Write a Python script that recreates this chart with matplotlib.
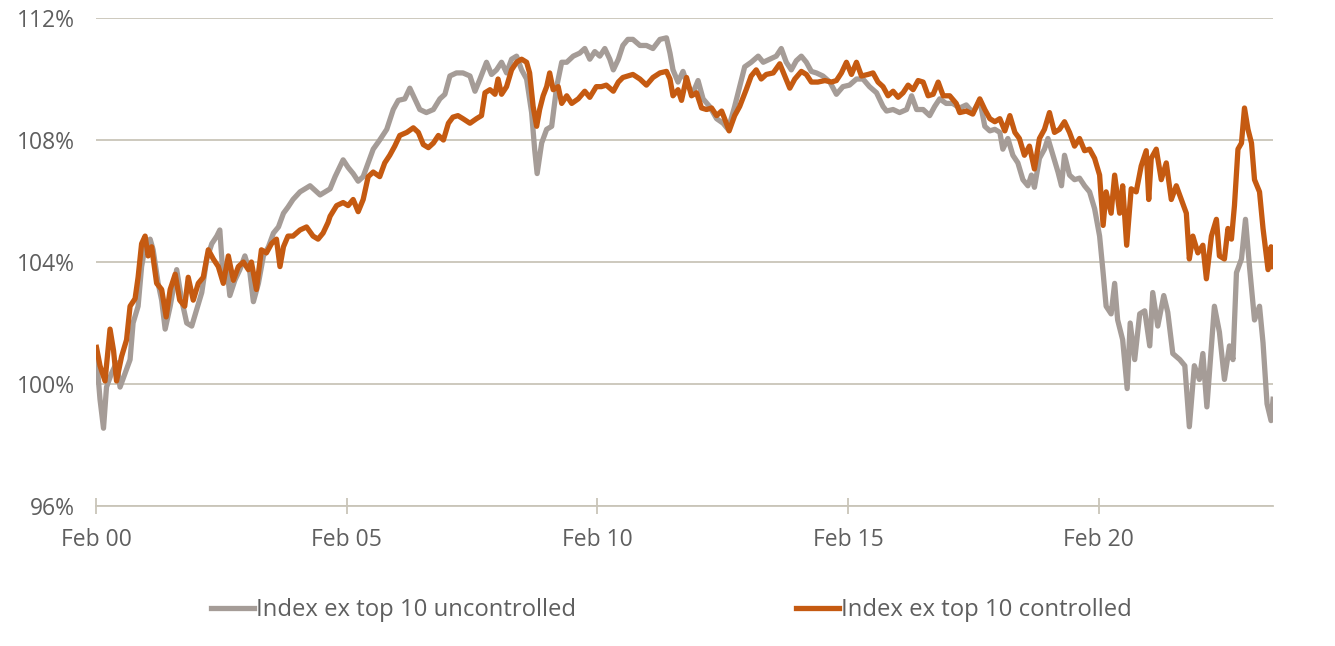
import matplotlib
matplotlib.use('Agg')
import matplotlib.pyplot as plt

# Years since Feb 2000 and index level (%) for the uncontrolled index
t_unc = [0.01, 0.08, 0.15, 0.21, 0.31, 0.41, 0.48, 0.58, 0.68, 0.74, 0.84, 0.91, 0.98, 1.08, 1.14,
         1.24, 1.31, 1.38, 1.48, 1.61, 1.71, 1.81, 1.91, 2.01, 2.11, 2.21, 2.31, 2.41, 2.47, 2.54,
         2.61, 2.67, 2.77, 2.87, 2.97, 3.07, 3.14, 3.24, 3.34, 3.44, 3.54, 3.64, 3.74, 3.83, 3.93,
         4.07, 4.27, 4.47, 4.67, 4.77, 4.93, 5.03, 5.13, 5.23, 5.33, 5.43, 5.53, 5.66, 5.80, 5.93,
         6.03, 6.16, 6.26, 6.36, 6.46, 6.59, 6.73, 6.86, 6.96, 7.06, 7.19, 7.32, 7.46, 7.56, 7.66,
         7.79, 7.89, 7.99, 8.09, 8.19, 8.29, 8.39, 8.49, 8.59, 8.69, 8.75, 8.80, 8.89, 8.99, 9.09,
         9.19, 9.29, 9.39, 9.52, 9.65, 9.75, 9.85, 9.95, 10.05, 10.15, 10.25, 10.32, 10.42, 10.51,
         10.61, 10.71, 10.85, 10.98, 11.11, 11.25, 11.38, 11.45, 11.51, 11.61, 11.71, 11.81, 11.91,
         12.01, 12.11, 12.24, 12.38, 12.51, 12.61, 12.74, 12.84, 12.94, 13.07, 13.21, 13.31, 13.44,
         13.57, 13.67, 13.77, 13.87, 13.97, 14.07, 14.17, 14.27, 14.37, 14.50, 14.64, 14.77, 14.90,
         15.03, 15.17, 15.30, 15.43, 15.57, 15.70, 15.77, 15.90, 16.03, 16.17, 16.27, 16.37, 16.50,
         16.63, 16.73, 16.83, 16.96, 17.09, 17.23, 17.36, 17.49, 17.63, 17.73, 17.83, 17.93, 18.03,
         18.09, 18.19, 18.29, 18.39, 18.49, 18.59, 18.66, 18.72, 18.82, 18.92, 18.99, 19.09, 19.19,
         19.26, 19.32, 19.42, 19.52, 19.62, 19.72, 19.82, 19.92, 20.02, 20.09, 20.15, 20.25, 20.32,
         20.38, 20.48, 20.57, 20.63, 20.72, 20.82, 20.92, 21.02, 21.08, 21.18, 21.30, 21.38, 21.48,
         21.62, 21.72, 21.81, 21.91, 22.01, 22.08, 22.16, 22.25, 22.31, 22.41, 22.51, 22.61, 22.68,
         22.75, 22.85, 22.93, 23.01, 23.11, 23.21, 23.28, 23.36, 23.44, 23.48]
v_unc = [100.9, 99.5, 98.55, 99.9, 100.35, 100.7, 99.9, 100.35, 100.8, 102.0, 102.55, 103.85, 104.5,
         104.75, 104.4, 103.3, 102.75, 101.8, 102.55, 103.75, 102.75, 102.0, 101.9, 102.45, 103.0,
         104.1, 104.6, 104.85, 105.05, 103.4, 103.85, 102.9, 103.4, 103.75, 104.2, 103.65, 102.7,
         103.3, 104.2, 104.5, 104.95, 105.15, 105.6, 105.8, 106.05, 106.3, 106.5, 106.2, 106.4,
         106.8, 107.35, 107.1, 106.9, 106.65, 106.8, 107.25, 107.7, 108.0, 108.35, 109.0, 109.3,
         109.35, 109.7, 109.35, 109.0, 108.9, 109.0, 109.35, 109.5, 110.1, 110.2, 110.2, 110.1,
         109.6, 110.0, 110.55, 110.15, 110.3, 110.55, 110.2, 110.65, 110.75, 110.3, 110.0, 108.9,
         107.7, 106.9, 107.9, 108.35, 108.45, 109.75, 110.55, 110.55, 110.75, 110.85, 111.0, 110.65,
         110.9, 110.75, 111.0, 110.65, 110.3, 110.65, 111.1, 111.3, 111.3, 111.1, 111.1, 111.0,
         111.3, 111.35, 110.85, 110.3, 109.9, 110.25, 109.75, 109.55, 109.95, 109.35, 109.1, 108.7,
         108.55, 108.35, 109.1, 109.75, 110.4, 110.55, 110.75, 110.55, 110.65, 110.75, 111.0,
         110.55, 110.3, 110.6, 110.75, 110.55, 110.25, 110.2, 110.1, 109.9, 109.5, 109.75, 109.8,
         110.0, 110.0, 109.75, 109.55, 109.1, 108.95, 109.0, 108.9, 109.0, 109.45, 109.0, 109.0,
         108.8, 109.1, 109.35, 109.2, 109.2, 109.05, 109.15, 108.9, 109.3, 108.45, 108.3, 108.35,
         108.25, 107.7, 108.05, 107.5, 107.25, 106.7, 106.5, 106.85, 106.45, 107.4, 107.7, 108.05,
         107.5, 106.95, 106.5, 107.5, 106.85, 106.7, 106.75, 106.5, 106.3, 105.75, 104.85, 103.65,
         102.55, 102.3, 103.3, 102.1, 101.45, 99.85, 102.0, 100.8, 102.3, 102.4, 101.25, 103.0,
         101.9, 102.9, 102.35, 101.0, 100.8, 100.6, 98.6, 100.6, 100.15, 101.0, 99.25, 101.25,
         102.55, 101.7, 100.15, 101.25, 100.8, 103.65, 104.1, 105.4, 103.85, 102.1, 102.55, 101.35,
         99.35, 98.8, 99.5]

# Controlled index
t_con = [0.01, 0.08, 0.18, 0.28, 0.35, 0.41, 0.51, 0.61, 0.68, 0.78, 0.84, 0.91, 0.98, 1.04, 1.11,
         1.21, 1.31, 1.40, 1.48, 1.58, 1.67, 1.77, 1.84, 1.94, 2.04, 2.14, 2.24, 2.34, 2.44, 2.54,
         2.64, 2.74, 2.84, 2.94, 3.04, 3.10, 3.20, 3.30, 3.40, 3.50, 3.60, 3.67, 3.74, 3.83, 3.93,
         4.07, 4.20, 4.33, 4.43, 4.53, 4.63, 4.67, 4.80, 4.93, 5.03, 5.13, 5.23, 5.33, 5.43, 5.53,
         5.66, 5.76, 5.86, 5.96, 6.06, 6.20, 6.33, 6.43, 6.53, 6.63, 6.73, 6.83, 6.93, 7.03, 7.12,
         7.22, 7.32, 7.46, 7.59, 7.69, 7.76, 7.86, 7.96, 8.02, 8.09, 8.19, 8.29, 8.39, 8.49, 8.59,
         8.65, 8.72, 8.79, 8.85, 8.92, 8.99, 9.05, 9.12, 9.22, 9.29, 9.39, 9.49, 9.62, 9.75, 9.85,
         9.98, 10.08, 10.18, 10.32, 10.42, 10.51, 10.61, 10.71, 10.85, 10.98, 11.11, 11.25, 11.38,
         11.45, 11.51, 11.61, 11.68, 11.78, 11.88, 11.98, 12.08, 12.18, 12.28, 12.38, 12.48, 12.54,
         12.63, 12.74, 12.84, 12.97, 13.07, 13.17, 13.27, 13.37, 13.51, 13.64, 13.74, 13.84, 13.94,
         14.07, 14.17, 14.27, 14.40, 14.54, 14.67, 14.77, 14.87, 14.97, 15.07, 15.17, 15.27, 15.40,
         15.50, 15.60, 15.70, 15.80, 15.90, 16.00, 16.10, 16.20, 16.30, 16.40, 16.50, 16.60, 16.70,
         16.80, 16.90, 17.03, 17.16, 17.23, 17.36, 17.49, 17.63, 17.73, 17.83, 17.93, 18.03, 18.13,
         18.23, 18.33, 18.42, 18.52, 18.62, 18.72, 18.82, 18.92, 19.02, 19.12, 19.22, 19.32, 19.42,
         19.52, 19.62, 19.72, 19.82, 19.92, 20.02, 20.09, 20.15, 20.25, 20.32, 20.42, 20.48, 20.56,
         20.65, 20.75, 20.85, 20.95, 21.00, 21.05, 21.15, 21.25, 21.35, 21.45, 21.55, 21.65, 21.75,
         21.81, 21.88, 21.98, 22.08, 22.15, 22.25, 22.35, 22.41, 22.51, 22.58, 22.65, 22.71, 22.78,
         22.85, 22.91, 22.98, 23.05, 23.11, 23.21, 23.28, 23.38, 23.44, 23.48]
v_con = [101.2, 100.6, 100.1, 101.8, 101.1, 100.1, 100.9, 101.45, 102.55, 102.8, 103.5, 104.6, 104.85,
         104.2, 104.5, 103.3, 103.1, 102.2, 103.1, 103.6, 102.75, 102.55, 103.5, 102.75, 103.3,
         103.5, 104.4, 104.1, 103.85, 103.3, 104.2, 103.4, 103.85, 104.0, 103.75, 104.0, 103.1,
         104.4, 104.3, 104.6, 104.75, 103.85, 104.5, 104.85, 104.85, 105.05, 105.15, 104.85, 104.75,
         104.95, 105.3, 105.5, 105.85, 105.95, 105.85, 106.05, 105.65, 106.05, 106.8, 106.95, 106.8,
         107.25, 107.5, 107.8, 108.15, 108.25, 108.4, 108.25, 107.85, 107.75, 107.9, 108.15, 108.0,
         108.55, 108.75, 108.8, 108.7, 108.55, 108.7, 108.8, 109.55, 109.65, 109.5, 110.0, 109.5,
         109.75, 110.3, 110.55, 110.65, 110.55, 110.2, 109.1, 108.45, 109.0, 109.45, 109.75, 110.2,
         109.65, 109.75, 109.2, 109.45, 109.2, 109.35, 109.6, 109.4, 109.75, 109.75, 109.8, 109.6,
         109.9, 110.05, 110.1, 110.15, 110.0, 109.8, 110.05, 110.2, 110.25, 110.0, 109.45, 109.65,
         109.3, 110.05, 109.45, 109.55, 109.05, 109.0, 109.05, 108.8, 108.95, 108.7, 108.3, 108.8,
         109.1, 109.65, 110.1, 110.3, 110.0, 110.15, 110.2, 110.5, 110.1, 109.7, 110.0, 110.25,
         110.15, 109.9, 109.9, 109.95, 109.9, 109.95, 110.2, 110.55, 110.15, 110.55, 110.1, 110.15,
         110.2, 109.9, 109.75, 109.45, 109.6, 109.4, 109.55, 109.8, 109.65, 109.95, 109.9, 109.45,
         109.5, 109.9, 109.45, 109.45, 109.2, 108.9, 108.95, 108.85, 109.35, 109.0, 108.7, 108.6,
         108.7, 108.3, 108.8, 108.25, 108.05, 107.5, 107.8, 107.05, 108.05, 108.35, 108.9, 108.25,
         108.35, 108.6, 108.25, 107.8, 108.05, 107.65, 107.7, 107.4, 106.85, 105.2, 106.3, 105.6,
         106.85, 105.6, 106.5, 104.55, 106.4, 106.3, 107.15, 107.65, 106.05, 107.4, 107.7, 106.7,
         107.25, 106.05, 106.5, 106.05, 105.6, 104.1, 104.85, 104.3, 104.55, 103.45, 104.85, 105.4,
         104.2, 104.1, 105.1, 104.75, 105.85, 107.7, 107.9, 109.05, 108.35, 107.9, 106.7, 106.3,
         105.1, 103.75, 104.5, 103.85]

tick_pos = [0, 5, 10, 15, 20]
tick_labels = ['Feb 00', 'Feb 05', 'Feb 10', 'Feb 15', 'Feb 20']
y_ticks = [96, 100, 104, 108, 112]
y_labels = ['96%', '100%', '104%', '108%', '112%']

plt.rcParams['font.family'] = ['Open Sans', 'DejaVu Sans']
text_col = '#5f5f5f'
grid_col = '#c9c5b9'

fig = plt.figure(figsize=(13.35, 6.46), dpi=100)
ax = fig.add_axes([0.0719, 0.2167, 0.8817, 0.7554])

ax.plot(t_unc, v_unc, color='#a59c97', lw=3.8, solid_joinstyle='round',
        label='Index ex top 10 uncontrolled')
ax.plot(t_con, v_con, color='#c55a11', lw=3.8, solid_joinstyle='round',
        label='Index ex top 10 controlled')

ax.set_xlim(0, 23.48)
ax.set_ylim(96, 112)
ax.set_yticks(y_ticks)
ax.set_yticklabels(y_labels)
ax.set_xticks(tick_pos)
ax.set_xticklabels(tick_labels)

ax.grid(axis='y', color=grid_col, lw=1.3)
ax.set_axisbelow(True)
for s in ['top', 'right', 'left']:
    ax.spines[s].set_visible(False)
ax.spines['bottom'].set_color(grid_col)
ax.spines['bottom'].set_linewidth(1.3)

ax.tick_params(axis='y', length=0, pad=15, labelsize=16.5, labelcolor=text_col)
ax.tick_params(axis='x', direction='inout', length=11, width=1.3, color=grid_col,
               pad=10, labelsize=16.5, labelcolor=text_col)

fig.legend(loc='center', bbox_to_anchor=(0.503, 0.055), ncol=2, frameon=False,
           fontsize=17.2, labelcolor=text_col, handlelength=1.8, handletextpad=0.1,
           columnspacing=9.2)

fig.savefig('out.png', dpi=100)
